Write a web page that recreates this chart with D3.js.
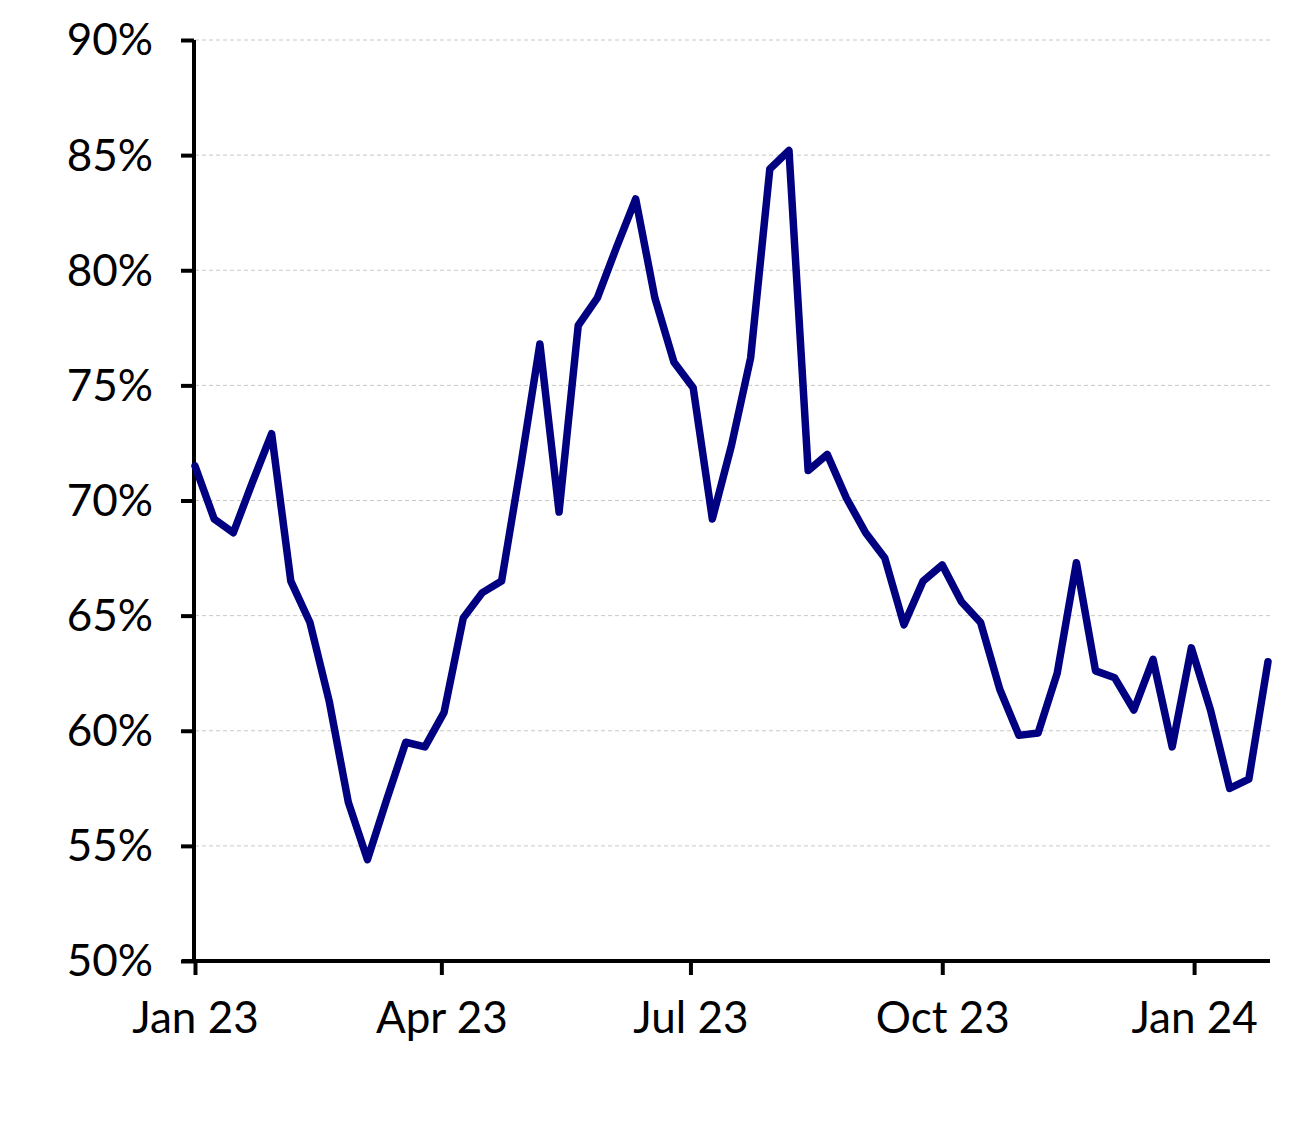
<!DOCTYPE html>
<html>
<head>
<meta charset="utf-8">
<script src="https://cdn.jsdelivr.net/npm/d3@7"></script>
<style>
  html, body { margin: 0; padding: 0; background: #fff; }
  svg { display: block; }
  .tick text { font-family: Lato, "Open Sans", sans-serif; fill: #000; }
</style>
</head>
<body>
<script>
// ---- data ----
const startDate = "2023-01-01";   // first weekly observation
const weeklyValues = [
  71.5, 69.2, 68.6, 70.8, 72.9, 66.5, 64.7, 61.3, 56.9, 54.4,
  57.0, 59.5, 59.3, 60.8, 64.9, 66.0, 66.5, 71.5, 76.8, 69.5,
  77.6, 78.8, 81.0, 83.1, 78.8, 76.0, 74.9, 69.2, 72.4, 76.2,
  84.4, 85.2, 71.3, 72.0, 70.1, 68.6, 67.5, 64.6, 66.5, 67.2,
  65.6, 64.7, 61.8, 59.8, 59.9, 62.5, 67.3, 62.6, 62.3, 60.9,
  63.1, 59.3, 63.6, 60.9, 57.5, 57.9, 63.0
];
const yTicks = [50, 55, 60, 65, 70, 75, 80, 85, 90];
const xTickDates = ["2023-01-01", "2023-04-01", "2023-07-01", "2023-10-01", "2024-01-01"];

// ---- layout ----
const W = 1294, H = 1142;
const mLeft = 195, mRight = 1270, mTop = 40, mBottom = 961;

const parse = d3.utcParse("%Y-%m-%d");
const t0 = parse(startDate);
const data = weeklyValues.map((v, i) => ({ date: d3.utcDay.offset(t0, 7 * i), value: v }));

const x = d3.scaleUtc()
  .domain([t0, data[data.length - 1].date])
  .range([mLeft, 1268]);
const y = d3.scaleLinear().domain([50, 90]).range([mBottom, mTop]);

const svg = d3.select("body").append("svg").attr("width", W).attr("height", H);

// gridlines
svg.append("g")
  .selectAll("line")
  .data(yTicks.filter(d => d !== 50))
  .join("line")
  .attr("x1", mLeft).attr("x2", mRight)
  .attr("y1", d => y(d)).attr("y2", d => y(d))
  .attr("stroke", "#c8c8c8")
  .attr("stroke-width", 1)
  .attr("stroke-dasharray", "4,3");

// y axis
const yAxis = svg.append("g")
  .attr("transform", `translate(${mLeft - 1},0)`)
  .call(d3.axisLeft(y).tickValues(yTicks).tickFormat(d => d + "%").tickSize(13).tickPadding(28));
yAxis.select(".domain").attr("stroke", "#000").attr("stroke-width", 4)
  .attr("d", `M0,${mTop}V${mBottom}`);
yAxis.selectAll(".tick line").attr("stroke", "#000").attr("stroke-width", 4);
yAxis.selectAll(".tick text").attr("font-size", 44).attr("dy", "0.34em");

// x axis
const xAxis = svg.append("g")
  .attr("transform", `translate(0,${mBottom})`)
  .call(d3.axisBottom(x).tickValues(xTickDates.map(parse)).tickFormat(d3.utcFormat("%b %y")).tickSize(14).tickPadding(27));
xAxis.select(".domain").attr("stroke", "#000").attr("stroke-width", 4)
  .attr("d", `M${mLeft - 13},0H${mRight}`);
xAxis.selectAll(".tick line").attr("stroke", "#000").attr("stroke-width", 4);
xAxis.selectAll(".tick text").attr("font-size", 44);

// line
const line = d3.line().x(d => x(d.date)).y(d => y(d.value));
svg.append("path")
  .datum(data)
  .attr("fill", "none")
  .attr("stroke", "#000080")
  .attr("stroke-width", 7.5)
  .attr("stroke-linejoin", "round")
  .attr("stroke-linecap", "round")
  .attr("d", line);
</script>
</body>
</html>
